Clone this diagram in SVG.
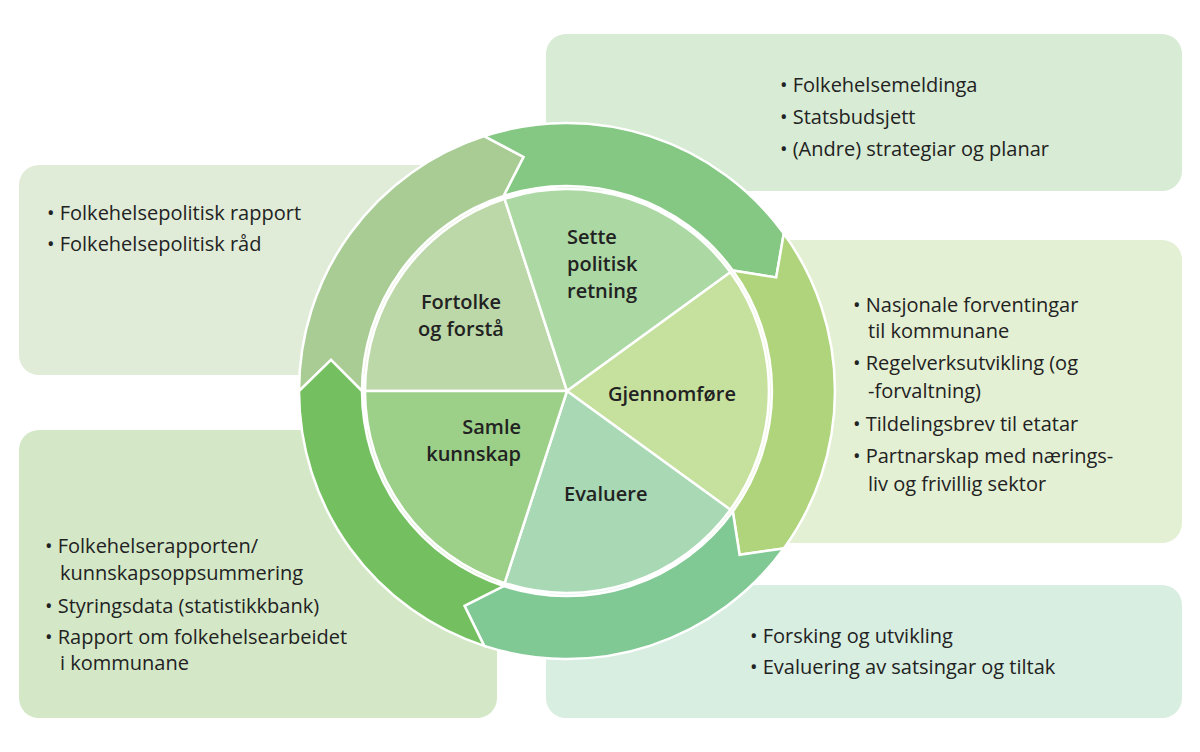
<svg xmlns="http://www.w3.org/2000/svg" width="1200" height="752" viewBox="0 0 1200 752">
<style>
.t{font-family:"Open Sans","Liberation Sans",sans-serif;font-size:20px;fill:#222}
.b{font-family:"Open Sans","Liberation Sans",sans-serif;font-size:20px;font-weight:600;fill:#222}
.s{stroke:#fff;stroke-width:2.5;stroke-linejoin:miter}
</style>
<rect width="1200" height="752" fill="#fff"/>
<g id="box-top"><rect x="546" y="34" width="636" height="157" rx="20" fill="#d8ebd4"/>
<text class="t" x="780" y="92">• Folkehelsemeldinga</text>
<text class="t" x="780" y="124">• Statsbudsjett</text>
<text class="t" x="780" y="156">• (Andre) strategiar og planar</text></g>
<g id="box-left1"><rect x="19" y="165" width="460" height="210" rx="20" fill="#e0ecd8"/>
<text class="t" x="47" y="220">• Folkehelsepolitisk rapport</text>
<text class="t" x="47" y="251">• Folkehelsepolitisk råd</text></g>
<g id="box-right"><rect x="700" y="240" width="482" height="303" rx="20" fill="#e4f0d4"/>
<text class="t" x="853" y="312">• Nasjonale forventingar</text>
<text class="t" x="868" y="338">til kommunane</text>
<text class="t" x="853" y="370">• Regelverksutvikling (og</text>
<text class="t" x="868" y="398">-forvaltning)</text>
<text class="t" x="853" y="431">• Tildelingsbrev til etatar</text>
<text class="t" x="853" y="463">• Partnarskap med nærings-</text>
<text class="t" x="868" y="491">liv og frivillig sektor</text></g>
<g id="box-left2"><rect x="19" y="430" width="478" height="288" rx="20" fill="#d4e8c8"/>
<text class="t" x="45" y="553">• Folkehelserapporten/</text>
<text class="t" x="60" y="580">kunnskapsoppsummering</text>
<text class="t" x="45" y="613">• Styringsdata (statistikkbank)</text>
<text class="t" x="45" y="644">• Rapport om folkehelsearbeidet</text>
<text class="t" x="60" y="670">i kommunane</text></g>
<g id="box-bottom"><rect x="546" y="585" width="636" height="133" rx="20" fill="#d8eee0"/>
<text class="t" x="750" y="643">• Forsking og utvikling</text>
<text class="t" x="750" y="674">• Evaluering av satsingar og tiltak</text></g>
<g id="connectors">
<path class="s" fill="#a8cc94" d="M299,391 A268,268 0 0 1 484.2,136.1 L523.6,157 L503.7,196 A205,205 0 0 0 362,391 L331,359.9 Z"/>
<path class="s" fill="#84c884" d="M484.2,136.1 A268,268 0 0 1 783.8,233.5 L776.2,277.4 L732.8,270.5 A205,205 0 0 0 503.7,196 L523.6,157 Z"/>
<path class="s" fill="#b0d47c" d="M783.8,233.5 A268,268 0 0 1 783.8,548.5 L739.6,554.8 L732.8,511.5 A205,205 0 0 0 732.8,270.5 L776.2,277.4 Z"/>
<path class="s" fill="#80c894" d="M783.8,548.5 A268,268 0 0 1 484.2,645.9 L464.5,605.8 L503.7,586 A205,205 0 0 0 732.8,511.5 L739.6,554.8 Z"/>
<path class="s" fill="#74c060" d="M484.2,645.9 A268,268 0 0 1 299,391 L331,359.9 L362,391 A205,205 0 0 0 503.7,586 L464.5,605.8 Z"/>
</g>
<g id="fortolke"><path class="s" fill="#bcd8a8" d="M567,391 L365,391 A202,202 0 0 1 504.6,198.9 Z"/>
<text class="b" text-anchor="middle" x="461" y="309">Fortolke</text><text class="b" text-anchor="middle" x="461" y="336">og forstå</text></g>
<g id="sette"><path class="s" fill="#acd8a4" d="M567,391 L504.6,198.9 A202,202 0 0 1 730.4,272.3 Z"/>
<text class="b" x="567" y="244">Sette</text><text class="b" x="567" y="271">politisk</text><text class="b" x="567" y="298">retning</text></g>
<g id="gjennomfore"><path class="s" fill="#c6e09e" d="M567,391 L730.4,272.3 A202,202 0 0 1 730.4,509.7 Z"/>
<text class="b" x="608" y="401">Gjennomføre</text></g>
<g id="evaluere"><path class="s" fill="#a8d8b4" d="M567,391 L730.4,509.7 A202,202 0 0 1 504.6,583.1 Z"/>
<text class="b" x="564" y="501">Evaluere</text></g>
<g id="samle"><path class="s" fill="#9ccf88" d="M567,391 L504.6,583.1 A202,202 0 0 1 365,391 Z"/>
<text class="b" text-anchor="end" x="521" y="434">Samle</text><text class="b" text-anchor="end" x="521" y="461">kunnskap</text></g>
</svg>
